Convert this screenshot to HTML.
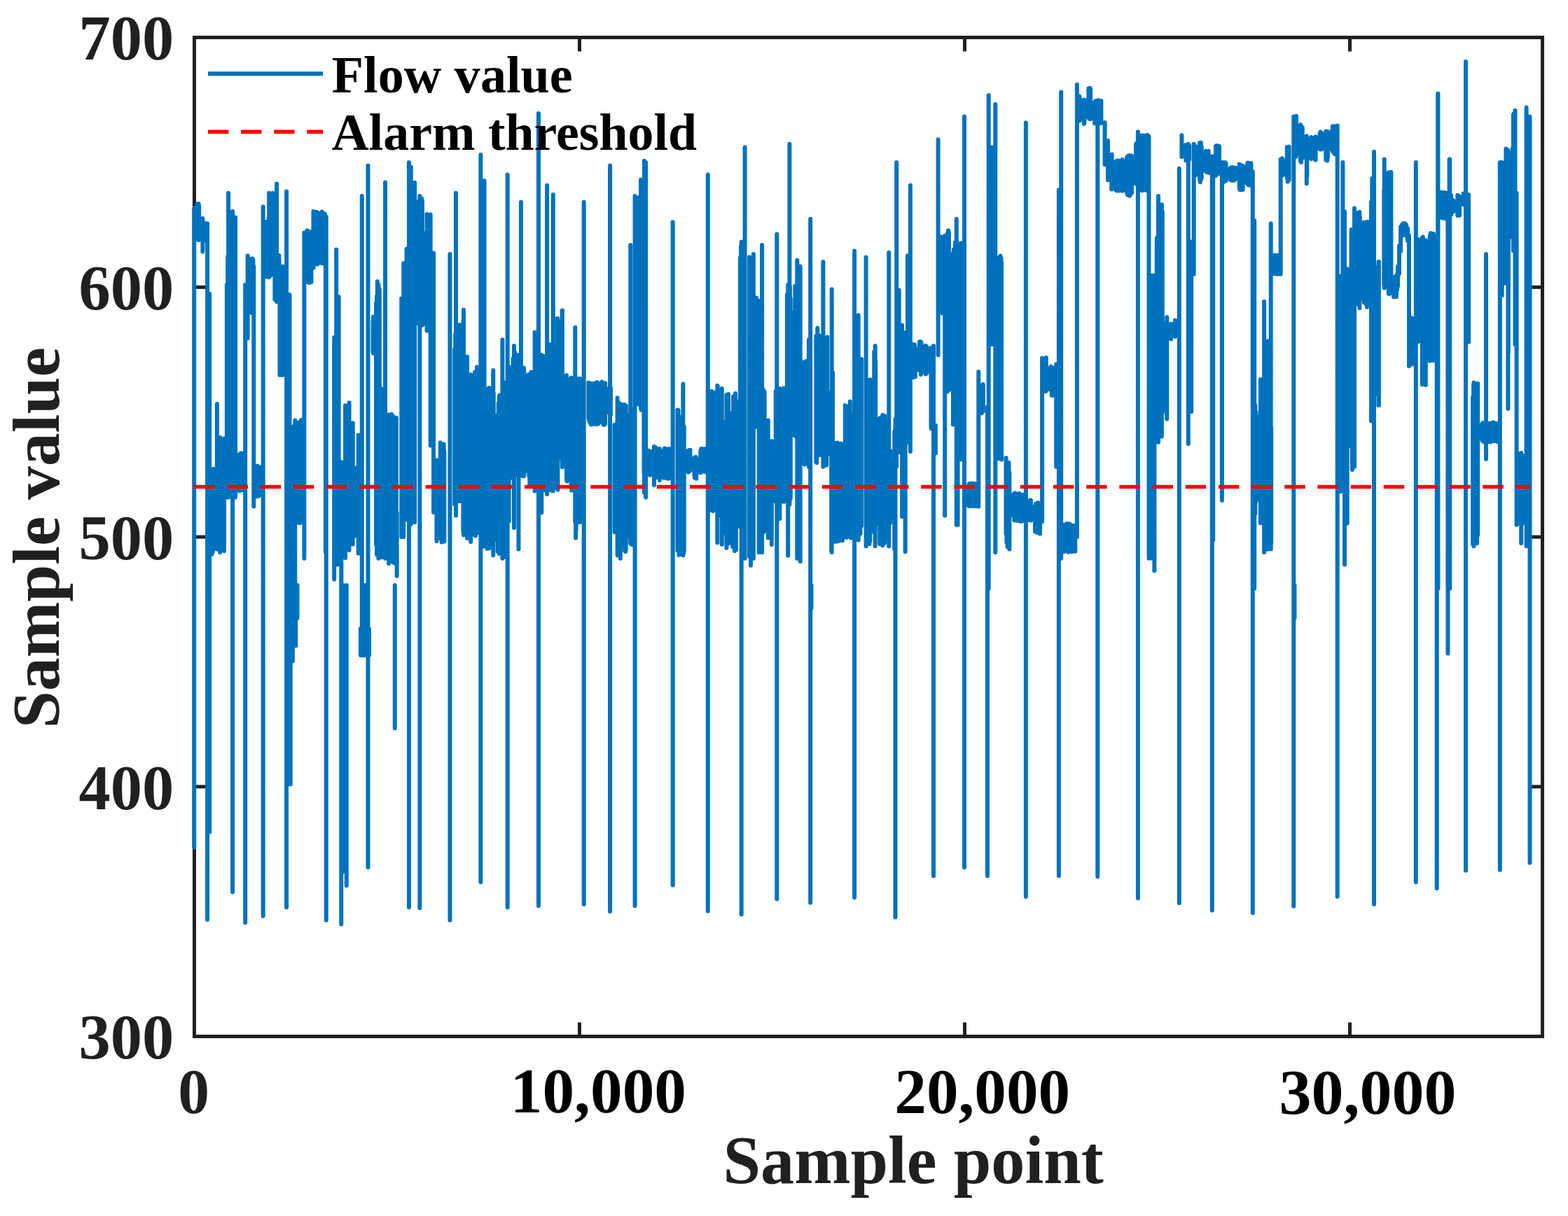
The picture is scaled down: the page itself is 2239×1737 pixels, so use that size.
<!DOCTYPE html>
<html><head><meta charset="utf-8"><title>Flow value and alarm threshold</title>
<style>html,body{margin:0;padding:0;background:#fff;overflow:hidden}svg{display:block}</style></head>
<body>
<svg width="2239" height="1737" viewBox="0 0 2239 1737">
<rect width="2239" height="1737" fill="#fff"/>
<rect x="277.5" y="53.5" width="1925.0" height="1427.0" fill="none" stroke="#202020" stroke-width="5"/>
<path d="M827.5 1480.5V1460.5M827.5 53.5V73.5M1377.5 1480.5V1460.5M1377.5 53.5V73.5M1927.5 1480.5V1460.5M1927.5 53.5V73.5M277.5 1123.8H297.5M2202.5 1123.8H2182.5M277.5 767.0H297.5M2202.5 767.0H2182.5M277.5 410.2H297.5M2202.5 410.2H2182.5" stroke="#202020" stroke-width="5" fill="none"/>
<path d="M277.2 297.5V1210.4M281.5 291.2V340.4M282.5 292.9V341.9M283.5 291.1V343.1M284.2 293.7V342.5M289.4 312.0V359.5M293.8 318.9V343.4M296.1 319.3V1313.7M299.2 419.8V1188.5M302.0 681.9V792.0M303.0 673.5V790.3M304.0 676.3V788.1M304.8 669.7V784.8M309.9 577.0V784.6M310.8 629.9V783.0M311.8 640.2V784.9M312.8 633.8V777.2M313.8 657.9V782.2M314.3 625.0V789.0M314.8 627.9V786.6M315.8 638.7V770.7M316.8 636.7V780.4M317.8 643.1V781.6M318.8 627.6V777.3M319.8 640.2V782.9M320.0 626.6V787.1M323.9 406.7V710.4M325.2 366.4V707.2M326.1 275.7V710.4M326.2 374.3V707.5M327.2 379.6V677.9M328.2 370.0V699.9M329.2 418.7V706.3M330.2 369.1V694.0M331.0 364.3V700.6M332.1 301.9V1274.2M336.1 310.6V710.4M339.1 657.6V697.7M340.1 650.2V692.8M341.1 655.1V699.0M342.1 649.1V701.2M343.1 648.0V700.3M344.1 647.3V700.2M345.1 649.5V698.5M346.1 648.7V700.0M347.1 655.2V698.4M348.1 647.4V699.6M348.4 652.3V698.7M350.2 406.7V1318.1M353.6 365.2V483.3M354.4 370.9V445.0M355.4 373.4V438.0M356.4 369.7V445.3M357.4 372.9V446.0M358.4 377.3V438.0M359.4 376.7V445.7M360.4 369.3V447.4M361.4 370.7V434.0M361.5 381.8V434.4M362.3 380.5V723.5M367.5 665.6V709.2M368.5 669.4V704.5M369.5 669.3V708.2M370.5 672.4V705.6M371.5 667.2V707.0M372.4 674.1V706.3M375.7 295.3V1308.5M380.6 316.8V394.9M381.6 323.3V392.8M382.6 329.7V392.4M383.6 311.3V378.6M384.2 275.7V395.9M384.6 316.7V390.8M385.6 318.9V393.8M386.4 313.6V393.4M389.4 275.7V369.7M392.4 366.2V428.0M393.4 368.8V426.2M394.4 367.0V428.2M395.1 262.6V430.9M395.4 365.6V428.5M396.4 365.1V424.7M397.4 365.9V425.7M398.4 365.1V429.0M398.6 369.7V425.7M399.5 384.8V535.7M403.8 380.5V535.7M409.1 273.5V1296.1M413.5 421.0V1120.0M414.8 836.0V1120.3M416.5 701.0V944.0M416.9 629.9V827.7M417.9 609.6V831.8M417.9 836.0V944.5M418.9 609.6V823.5M419.9 634.4V827.9M420.9 621.6V837.8M421.3 600.5V837.8M422.3 836.0V922.5M424.3 613.2V746.2M424.5 836.0V883.0M425.3 607.5V730.4M426.3 603.6V744.3M427.3 636.4V747.0M428.3 605.4V747.0M429.3 608.7V742.2M430.1 600.0V740.6M434.4 332.4V797.7M437.4 331.3V395.7M438.4 329.3V402.2M439.4 329.7V399.8M440.4 335.6V401.3M441.4 333.5V404.1M442.4 333.9V401.6M443.4 334.4V401.8M444.4 330.9V401.3M444.5 334.0V403.1M447.5 301.9V382.8M450.5 305.5V377.5M451.5 302.7V376.1M452.5 308.3V375.2M453.5 303.6V377.3M454.5 308.7V376.2M455.5 312.9V370.5M456.5 307.1V375.0M457.5 309.4V374.3M458.5 308.6V375.4M459.5 302.5V376.0M460.5 303.5V375.6M461.5 311.9V376.4M462.5 304.6V376.5M463.5 306.0V362.7M464.1 305.9V376.0M465.0 345.5V789.0M465.8 309.7V1314.6M477.2 482.1V827.6M480.2 356.5V806.4M483.7 424.1V806.4M487.3 660.0V1320.3M487.4 663.5V839.9M490.0 836.0V1245.0M493.1 579.2V797.1M494.8 836.0V1265.0M498.6 575.3V786.0M503.8 604.3V777.6M508.2 668.5V765.5M511.7 621.6V790.4M515.0 898.0V936.0M516.8 280.0V935.7M517.0 898.0V936.0M519.0 898.0V936.0M521.0 898.0V936.0M521.2 836.0V929.0M523.0 898.0V936.0M525.0 898.0V936.0M525.5 236.4V1239.0M527.0 898.0V936.0M532.6 459.0V503.0M533.1 452.4V504.8M537.0 433.2V777.4M538.0 423.1V792.3M539.0 401.9V793.0M540.0 416.3V775.9M540.5 406.7V797.7M541.0 411.5V763.3M541.9 413.6V775.9M545.7 555.9V795.9M546.2 555.4V777.1M550.1 260.4V797.7M552.2 598.7V797.3M553.2 607.8V795.0M554.2 592.6V790.7M555.2 599.3V804.9M556.2 604.3V793.3M557.2 599.4V799.2M558.2 615.1V761.9M559.2 591.7V784.8M560.2 597.4V801.0M561.2 594.4V803.2M562.2 623.8V786.2M563.2 616.0V800.9M563.8 836.0V1040.3M564.2 597.4V804.9M565.2 597.5V803.7M565.9 596.8V804.2M566.7 732.6V822.7M573.3 426.3V767.1M576.3 376.1V767.1M580.6 355.4V742.3M581.2 417.2V742.6M584.0 232.0V1296.1M586.8 238.4V748.7M592.2 260.8V746.0M598.1 287.5V462.8M599.1 303.2V457.9M599.4 280.0V1297.0M600.1 308.8V457.8M601.1 294.1V454.8M602.1 283.4V444.7M603.0 287.2V464.6M609.0 331.8V464.1M609.6 306.0V472.4M614.7 306.5V636.5M619.1 361.4V731.7M623.5 657.2V773.0M628.7 632.2V766.9M629.7 640.9V770.3M630.7 633.9V774.5M631.7 655.2V768.8M632.7 644.8V772.8M633.7 634.5V750.5M634.4 644.8V773.5M642.5 363.0V1314.6M649.2 499.3V720.4M650.2 477.2V706.4M651.0 275.7V736.6M651.0 516.3V730.2M656.2 464.0V716.0M661.4 459.1V759.6M662.0 442.4V764.3M667.1 509.4V768.8M672.2 535.3V774.1M678.0 531.4V764.6M679.0 531.9V765.6M680.0 562.6V742.8M681.0 524.3V728.4M681.6 524.9V760.7M686.4 221.1V1260.1M686.7 545.4V772.2M687.7 541.0V782.5M688.7 552.8V766.5M689.5 547.2V743.7M691.6 258.2V780.2M695.5 572.1V783.7M696.5 557.8V780.2M697.5 555.1V773.0M698.2 553.9V783.2M704.2 531.1V791.3M704.3 528.9V793.3M704.8 562.0V772.8M710.8 592.1V788.1M711.8 575.8V779.3M712.8 566.0V791.1M713.5 564.4V756.3M717.4 485.3V797.7M719.5 582.0V789.4M720.5 561.6V795.6M720.9 546.5V793.8M724.7 249.5V1296.1M726.7 523.9V744.7M732.6 512.2V683.6M733.6 522.9V668.5M734.0 494.0V754.0M734.6 503.1V652.6M735.3 503.4V679.8M740.5 507.1V784.6M741.2 509.4V675.3M744.0 288.8V679.8M747.9 525.4V680.2M748.4 530.7V678.8M754.4 535.2V674.3M755.4 545.0V680.2M756.4 537.9V692.9M757.4 542.2V693.1M758.4 531.6V695.3M759.3 535.2V676.0M763.6 474.4V701.6M767.5 510.4V699.1M768.5 520.6V697.7M769.0 162.1V1294.0M769.5 518.7V685.5M770.5 518.2V682.7M771.5 516.5V687.9M772.5 510.6V697.3M773.3 507.1V732.2M773.5 516.6V693.7M774.5 514.8V683.4M775.5 553.7V692.8M776.5 527.9V700.3M777.5 508.9V664.4M778.5 534.4V680.5M779.0 512.4V672.7M781.1 264.8V706.0M785.0 501.2V697.9M786.0 491.9V696.7M787.0 501.5V700.5M788.0 502.3V697.0M789.0 508.3V700.6M789.8 277.9V701.6M789.9 496.7V690.4M795.9 454.7V698.3M796.5 457.9V699.5M802.5 444.0V656.3M803.0 443.5V667.3M809.0 536.1V686.0M809.6 540.2V687.4M815.6 539.5V694.5M816.1 540.3V700.5M821.3 467.8V745.3M822.1 540.5V768.4M822.7 540.6V757.3M827.8 540.8V746.0M833.7 288.8V1291.7M840.4 546.6V598.0M841.4 553.8V601.6M842.4 549.9V603.5M843.4 550.6V605.7M844.4 547.8V606.6M845.4 551.2V605.9M846.4 549.0V601.4M847.4 548.9V603.6M848.4 547.8V603.9M849.4 547.5V605.8M850.4 547.1V600.7M851.4 546.8V605.3M852.4 546.0V606.1M853.4 546.7V604.2M854.4 550.9V605.2M855.4 547.7V597.5M856.4 553.6V601.0M857.4 547.9V602.6M858.4 552.8V599.9M859.4 545.5V602.6M860.4 552.5V601.8M861.4 549.3V606.2M862.4 547.5V607.1M863.4 547.6V601.3M864.1 547.2V605.7M870.1 554.3V590.2M871.1 236.4V1301.9M871.1 555.5V593.6M872.0 554.4V592.2M877.6 606.7V760.0M881.6 568.2V793.3M883.2 575.0V765.5M884.2 587.3V766.4M885.1 579.7V776.2M885.9 577.0V797.7M891.1 577.8V777.4M892.1 587.4V786.8M893.1 588.4V787.9M893.8 579.3V784.5M899.8 590.9V769.0M900.3 349.9V775.9M900.8 585.6V777.0M901.8 584.3V757.3M902.8 587.3V778.2M903.8 590.7V768.5M904.8 611.3V774.6M906.6 280.0V1294.0M910.8 282.3V570.8M911.8 283.3V577.5M912.8 323.1V574.2M913.5 292.6V553.5M915.1 256.7V584.6M915.7 277.6V585.4M919.5 258.1V675.9M920.0 229.8V703.8M922.2 232.0V710.4M926.0 643.8V676.8M927.0 645.3V676.4M928.0 645.3V678.7M928.8 644.7V678.0M934.0 638.1V692.9M934.8 643.6V683.6M935.8 647.2V681.0M936.8 639.6V680.1M937.8 642.5V680.0M938.8 641.5V681.8M939.8 643.8V682.2M940.8 643.7V682.7M941.8 641.2V683.9M941.9 641.1V685.9M947.9 643.3V682.8M948.9 640.5V679.5M949.9 645.2V682.2M950.9 643.8V677.6M951.9 643.1V675.7M952.9 641.2V683.8M953.9 647.1V679.4M954.9 643.5V683.6M955.9 644.2V682.0M956.9 641.1V681.2M957.9 642.3V675.0M958.5 646.5V682.8M960.7 317.2V1264.5M967.5 585.6V786.6M968.5 586.1V771.4M969.5 596.2V792.7M970.3 595.6V791.8M975.4 548.6V793.3M976.3 612.1V789.9M976.8 609.8V787.6M982.8 643.6V674.6M983.8 645.3V673.4M984.8 642.9V672.9M985.5 642.8V672.3M991.5 654.0V681.0M992.5 653.7V682.7M993.5 652.8V682.6M994.3 654.8V683.8M1000.3 643.9V675.3M1001.3 641.1V674.4M1002.3 643.9V673.4M1003.3 641.8V671.9M1004.3 641.2V673.6M1005.3 642.4V672.4M1006.3 643.3V672.8M1007.3 641.7V674.1M1007.4 640.9V672.0M1010.8 249.5V1301.4M1016.0 558.8V729.1M1017.0 562.1V729.5M1018.0 567.4V729.3M1018.3 560.3V730.1M1024.3 550.8V775.2M1024.8 551.8V738.0M1030.8 554.9V777.8M1031.4 600.9V763.6M1037.4 563.9V782.7M1038.4 565.2V776.4M1039.4 574.4V771.8M1040.1 563.1V776.5M1046.1 588.9V781.0M1047.1 566.6V775.6M1048.1 579.2V768.7M1049.1 573.0V787.0M1050.1 562.0V773.2M1051.0 572.0V785.5M1057.0 368.0V752.9M1058.0 351.9V746.2M1058.7 345.5V1306.3M1059.0 363.2V777.7M1059.8 351.7V717.0M1063.6 210.2V797.7M1070.1 367.2V795.3M1071.1 381.2V773.5M1072.0 377.8V807.7M1075.9 363.0V797.7M1078.0 431.2V610.1M1079.0 428.5V610.0M1080.0 425.5V606.9M1081.0 429.1V609.6M1082.0 452.7V609.5M1082.9 429.6V610.6M1083.7 432.9V789.0M1088.1 349.9V789.0M1088.9 570.8V758.5M1089.9 556.5V760.5M1090.9 571.9V759.3M1091.7 559.8V746.5M1096.8 600.6V768.3M1101.9 629.9V778.0M1107.7 558.7V716.4M1108.7 561.8V710.7M1109.3 334.6V1284.3M1109.7 579.9V717.9M1110.7 577.3V717.1M1111.7 563.6V717.9M1112.7 564.8V719.5M1113.4 555.1V740.9M1113.7 559.7V716.8M1114.7 577.2V716.6M1115.7 565.4V708.9M1119.3 554.6V716.7M1123.9 420.9V709.1M1124.9 420.3V716.2M1125.2 406.7V793.8M1125.9 417.6V710.5M1126.9 418.9V706.0M1127.4 205.8V720.8M1127.9 409.3V709.2M1128.8 426.5V712.1M1134.8 444.3V622.5M1135.3 408.8V620.0M1138.3 371.7V797.7M1141.3 391.9V785.5M1141.9 428.8V773.4M1142.7 380.5V802.1M1147.9 517.3V661.7M1148.9 519.7V663.5M1149.9 517.5V652.0M1150.9 526.5V660.4M1151.9 520.0V656.0M1151.9 515.6V662.1M1154.9 485.3V666.7M1157.2 312.8V1289.5M1158.5 836.0V869.0M1165.3 480.1V659.7M1166.3 490.8V660.9M1167.3 468.4V635.5M1168.3 480.7V636.8M1169.3 479.1V648.8M1170.3 479.7V650.1M1175.4 373.9V666.7M1176.3 494.7V664.7M1177.3 497.6V655.6M1178.3 499.5V658.2M1179.3 485.6V661.8M1180.3 493.4V664.5M1181.2 481.6V649.4M1187.2 559.3V787.6M1187.7 413.2V789.0M1188.2 539.3V734.9M1189.0 532.0V774.5M1193.7 632.8V773.8M1194.7 635.4V772.6M1195.7 632.6V765.8M1196.7 641.8V773.2M1197.7 643.3V766.0M1198.7 640.9V768.5M1199.7 636.6V766.6M1200.7 633.6V763.2M1201.7 636.5V771.9M1202.7 636.6V770.8M1203.0 637.8V772.3M1206.8 579.1V760.3M1207.8 579.9V740.0M1208.8 581.9V767.9M1209.8 587.3V765.6M1210.8 613.2V761.3M1211.8 580.9V764.7M1212.8 584.6V754.1M1213.8 573.4V764.2M1214.8 592.3V768.6M1215.8 592.0V762.1M1216.1 594.2V757.2M1220.1 358.6V1282.1M1225.7 450.3V771.5M1226.5 515.2V758.4M1227.5 514.5V735.3M1228.5 523.7V762.6M1229.5 515.4V749.4M1230.1 512.9V751.3M1236.6 367.4V780.2M1240.4 551.0V752.2M1241.4 547.4V777.1M1242.3 542.2V773.0M1248.3 502.5V760.4M1249.3 562.8V759.3M1249.7 494.0V780.2M1250.2 515.4V749.4M1256.2 597.2V776.9M1257.2 610.9V771.4M1258.2 605.9V749.8M1259.2 609.4V777.3M1260.2 592.8V779.2M1261.2 600.5V771.5M1262.2 613.4V770.3M1263.2 594.2V775.7M1264.1 602.8V768.4M1269.3 360.8V780.2M1270.1 646.2V728.3M1271.1 644.0V747.0M1272.0 657.9V739.6M1277.2 616.4V784.3M1278.5 598.8V1310.2M1280.2 232.0V666.7M1283.7 414.4V645.9M1288.1 464.4V737.9M1292.7 475.0V788.2M1296.0 365.2V631.8M1299.9 264.8V644.9M1304.2 491.9V538.9M1305.2 492.7V536.2M1306.2 492.5V536.6M1306.9 497.6V538.3M1312.9 488.3V529.0M1313.9 487.9V529.7M1314.9 488.3V534.9M1315.7 490.2V532.7M1321.7 493.8V534.5M1322.7 497.0V533.8M1323.5 495.4V532.5M1329.5 497.1V606.9M1329.6 498.8V611.9M1333.0 494.0V1251.3M1335.9 607.6V647.5M1339.6 199.3V507.3M1343.5 338.3V435.3M1344.5 345.0V426.5M1345.5 347.2V447.5M1346.2 348.5V445.9M1349.2 336.8V736.6M1352.2 358.4V559.8M1353.2 332.8V554.8M1354.2 329.3V557.7M1355.0 332.6V556.9M1361.0 361.5V606.6M1362.0 356.2V592.2M1363.0 360.7V582.0M1364.0 346.2V575.3M1365.0 365.9V604.6M1365.8 312.8V749.7M1365.9 343.6V601.8M1367.6 363.0V749.7M1371.9 347.2V655.6M1372.9 349.8V636.7M1373.9 353.9V656.7M1374.9 349.2V615.4M1375.1 358.8V654.2M1377.0 166.5V1239.0M1382.8 694.4V722.6M1383.8 691.2V723.0M1384.8 691.5V720.2M1385.8 690.6V723.1M1386.8 693.3V722.7M1387.8 690.6V721.1M1388.8 692.8V721.4M1389.8 693.3V723.0M1390.8 694.0V720.6M1391.8 690.7V723.0M1392.8 692.5V721.5M1393.8 691.6V723.0M1394.3 692.1V722.9M1397.3 531.1V723.5M1401.6 551.2V590.3M1402.6 550.2V585.4M1403.6 548.9V586.5M1403.9 550.4V587.8M1410.0 581.3V1251.3M1411.7 135.9V840.7M1416.5 210.2V492.0M1421.3 149.0V789.0M1426.5 368.2V655.0M1427.5 390.7V638.3M1428.5 365.4V615.5M1429.5 368.7V650.3M1430.1 374.8V656.5M1436.5 654.0V762.6M1437.5 674.3V774.9M1438.5 668.4V781.1M1439.5 662.0V780.8M1440.5 660.8V782.6M1441.4 675.0V784.5M1447.4 705.7V736.9M1448.4 705.7V743.2M1449.4 704.3V743.3M1450.4 705.1V743.4M1451.4 709.4V741.5M1452.4 706.2V742.3M1453.4 707.1V743.7M1454.4 705.7V742.5M1455.4 704.7V740.3M1456.4 706.9V741.6M1457.4 706.7V744.7M1458.4 709.4V744.0M1459.4 707.1V744.4M1460.4 712.8V743.9M1461.4 706.6V740.6M1462.4 708.9V740.1M1463.4 708.2V739.8M1464.1 709.4V740.8M1464.9 175.2V1280.8M1470.1 715.4V742.9M1471.1 714.3V741.4M1472.0 714.6V743.6M1478.0 723.0V759.4M1479.0 719.5V758.8M1480.0 719.6V760.6M1481.0 723.0V759.8M1482.0 718.1V760.7M1483.0 719.1V755.7M1484.0 723.7V754.5M1485.0 720.8V762.6M1485.1 720.2V754.4M1488.1 511.5V745.3M1491.1 514.4V558.3M1492.1 513.6V558.9M1493.1 513.3V557.2M1493.8 510.7V558.8M1499.8 524.9V556.8M1500.8 523.5V553.2M1501.8 524.5V564.8M1502.8 531.9V564.2M1503.8 527.7V559.2M1504.8 526.7V565.0M1508.2 520.2V666.7M1511.9 271.3V1250.9M1515.2 131.6V797.7M1516.4 750.4V788.0M1517.4 751.3V785.0M1518.4 749.6V785.4M1519.4 750.2V788.0M1520.4 753.1V786.0M1521.4 750.5V786.3M1522.4 751.9V785.9M1523.4 748.0V785.5M1524.4 748.0V784.9M1525.4 751.8V788.8M1526.4 751.5V785.2M1527.4 748.5V786.0M1528.4 750.2V786.5M1529.4 750.1V784.2M1530.4 750.4V788.2M1531.4 755.7V785.4M1532.4 751.9V784.1M1533.4 751.6V787.2M1534.4 750.7V785.5M1535.3 751.1V787.8M1537.9 120.7V767.1M1541.3 137.4V172.5M1541.9 139.8V172.1M1547.9 142.5V177.1M1548.4 142.4V176.1M1554.4 126.5V168.3M1555.4 126.8V169.7M1556.4 125.8V167.4M1557.2 127.5V170.0M1563.2 145.8V176.2M1564.2 144.3V173.4M1565.2 145.7V176.1M1566.2 143.9V173.8M1567.2 144.0V172.9M1567.3 144.7V1252.2M1568.2 143.3V172.9M1569.2 144.5V175.8M1570.2 144.3V176.2M1571.2 145.3V175.7M1572.2 146.1V174.4M1572.4 144.0V175.7M1577.6 175.0V235.1M1582.0 201.1V257.2M1587.2 222.3V270.4M1587.7 220.6V270.6M1593.7 230.6V271.7M1594.7 230.2V272.6M1595.7 229.2V271.2M1596.7 229.6V265.6M1597.7 235.4V272.5M1598.7 229.7V270.0M1599.7 230.9V270.0M1600.7 233.2V270.7M1601.7 230.7V268.4M1602.7 227.9V272.7M1603.0 229.6V272.6M1609.0 224.8V274.9M1610.0 225.8V278.5M1611.0 222.4V274.4M1612.0 222.3V274.5M1613.0 222.0V279.7M1614.0 224.6V277.8M1615.0 226.0V275.6M1616.0 222.4V271.9M1616.1 231.6V275.7M1622.1 206.0V262.7M1622.7 204.8V255.9M1624.9 188.3V1283.0M1628.7 196.8V266.1M1629.7 193.4V256.9M1630.7 194.6V272.3M1631.7 193.4V271.7M1632.7 197.8V271.8M1633.7 194.9V260.9M1634.7 194.7V271.3M1635.7 194.7V268.0M1636.7 193.3V268.4M1637.7 199.2V272.3M1638.7 193.0V272.6M1638.8 193.6V270.8M1640.5 194.9V797.7M1645.3 393.6V797.7M1648.4 393.6V815.2M1651.8 346.0V616.1M1651.9 340.1V551.5M1654.0 280.0V631.8M1657.9 292.4V564.1M1658.9 292.2V623.5M1659.8 302.4V588.3M1665.8 460.7V592.3M1666.3 452.9V598.6M1672.2 462.4V484.3M1678.0 457.6V480.7M1678.6 460.3V479.6M1683.8 240.7V1290.0M1687.4 193.3V224.1M1693.3 207.1V229.3M1694.3 209.1V228.7M1695.3 207.3V227.8M1696.3 207.3V226.7M1696.8 205.8V633.9M1697.3 206.8V229.8M1698.2 208.1V227.5M1701.2 345.5V588.1M1704.7 205.8V391.6M1706.4 212.0V243.3M1706.9 208.9V250.5M1712.9 204.3V256.5M1713.9 206.1V260.2M1714.9 203.8V256.6M1715.7 209.6V254.6M1721.7 215.7V244.8M1722.7 216.6V245.8M1723.7 215.9V245.7M1724.7 217.2V244.2M1725.7 218.2V246.8M1725.7 215.7V245.7M1730.8 223.3V1300.5M1732.2 232.0V771.5M1736.1 208.8V251.1M1737.1 208.1V240.6M1738.1 213.5V242.1M1739.1 210.0V247.3M1740.1 208.4V243.1M1741.0 209.2V248.2M1744.9 232.0V714.7M1747.9 232.1V259.8M1748.9 234.7V258.8M1749.9 232.3V257.9M1750.6 233.5V258.2M1756.6 240.2V256.3M1757.6 240.8V256.8M1758.6 239.0V257.7M1759.6 242.1V256.2M1760.6 239.0V254.9M1761.6 239.6V258.0M1762.6 240.7V257.4M1763.6 240.5V256.2M1763.7 239.5V256.1M1769.7 234.6V269.4M1770.7 236.5V271.2M1771.7 235.8V271.2M1772.7 235.9V268.0M1773.7 236.4V268.6M1774.6 237.2V271.0M1780.6 236.0V262.1M1781.6 232.4V261.6M1782.6 233.6V264.3M1783.6 235.8V262.7M1784.6 235.1V264.4M1785.6 235.1V264.7M1786.4 233.0V263.4M1788.8 245.1V1304.0M1791.2 315.0V840.7M1792.4 578.9V733.7M1793.4 588.2V717.0M1794.3 595.3V713.8M1799.9 541.9V747.2M1805.1 430.7V789.0M1805.5 505.2V785.8M1806.5 508.6V769.3M1807.5 499.7V774.4M1808.5 489.9V771.0M1809.5 489.9V759.4M1810.0 487.2V784.8M1814.7 319.3V784.6M1815.2 611.0V775.2M1819.9 364.5V391.0M1820.9 366.5V389.4M1821.9 365.8V388.3M1822.9 366.8V391.5M1823.9 364.4V391.0M1824.9 365.0V388.1M1825.7 366.2V391.4M1828.7 227.6V391.6M1830.8 226.2V248.6M1831.8 228.2V250.3M1837.8 210.2V254.3M1838.8 215.5V259.4M1839.8 211.3V258.0M1840.6 209.6V257.1M1847.3 166.5V1294.4M1848.5 836.0V883.0M1850.5 166.9V223.9M1851.0 165.7V220.7M1857.0 178.0V230.3M1858.0 179.9V231.8M1859.0 182.5V220.0M1859.8 182.2V226.0M1865.8 194.2V262.3M1866.3 197.2V251.9M1872.2 196.1V227.0M1878.0 195.7V228.0M1878.6 195.2V228.6M1884.6 190.5V213.1M1885.6 188.6V213.4M1886.6 189.6V210.8M1887.3 190.3V213.3M1893.3 187.5V228.6M1894.3 188.8V227.3M1895.3 189.0V229.4M1896.0 187.9V225.4M1902.0 186.7V214.0M1903.0 180.3V216.4M1904.0 182.9V217.4M1905.0 181.2V215.4M1906.0 180.3V220.1M1907.0 182.9V219.6M1908.0 184.2V218.4M1909.0 185.4V219.0M1909.1 185.8V219.9M1909.7 179.6V1280.8M1914.3 394.5V702.2M1917.4 232.0V557.5M1920.0 301.9V806.4M1923.7 384.1V747.6M1929.5 343.7V621.5M1929.6 328.1V637.9M1930.9 328.1V671.1M1934.0 297.5V666.7M1938.3 304.1V434.5M1939.3 304.2V421.4M1940.3 331.4V432.8M1941.3 302.8V440.1M1941.9 310.5V428.4M1947.9 317.4V432.3M1948.9 317.6V430.0M1949.9 321.0V428.9M1950.9 323.2V434.8M1951.9 318.3V438.7M1952.8 316.8V428.8M1958.0 288.8V601.2M1958.8 334.2V576.2M1959.3 254.7V598.6M1962.0 216.7V1291.7M1967.5 381.5V563.8M1968.5 374.1V578.9M1968.9 373.8V579.0M1976.3 271.4V407.3M1976.7 227.6V404.7M1976.8 248.5V411.4M1982.8 246.2V419.6M1983.8 250.2V419.9M1984.8 250.5V394.0M1985.8 246.0V418.1M1986.4 245.9V407.3M1990.0 396.0V424.0M1992.0 396.0V424.0M1992.4 397.9V413.4M1993.4 397.9V413.4M1994.0 393.0V424.0M1994.4 397.9V413.4M1995.1 397.9V413.4M1996.0 381.0V409.0M1998.0 351.0V391.0M2000.0 324.0V359.0M2002.0 321.0V337.0M2004.0 319.0V335.0M2006.0 319.0V335.0M2008.0 321.0V337.0M2010.0 326.0V344.0M2012.0 336.0V523.0M2013.4 454.6V520.0M2014.4 453.6V514.2M2015.4 458.0V520.4M2016.4 455.5V519.9M2017.0 455.1V516.7M2021.8 232.0V1260.1M2023.0 343.5V486.2M2024.0 355.0V473.6M2024.8 341.8V488.2M2030.8 339.6V549.2M2031.8 338.4V540.3M2032.8 344.1V536.7M2033.8 379.4V547.9M2034.8 349.7V544.8M2035.8 343.3V550.0M2041.8 336.5V515.5M2042.8 332.9V514.3M2043.8 334.0V511.3M2044.8 335.9V493.3M2045.8 335.5V495.6M2046.7 333.8V515.1M2051.7 336.8V840.7M2051.7 339.0V1268.9M2053.2 133.8V666.7M2053.4 133.8V840.7M2057.0 275.1V310.2M2057.3 278.0V309.0M2058.0 274.5V308.6M2058.3 276.6V310.5M2059.0 276.8V307.6M2059.3 278.6V311.5M2060.0 279.9V311.0M2060.3 278.5V311.4M2061.0 277.5V310.8M2061.3 277.8V310.5M2062.0 275.0V302.6M2062.3 278.4V311.7M2063.0 278.2V310.5M2063.1 278.2V310.8M2064.0 275.2V312.2M2065.0 279.7V307.9M2066.0 276.9V309.2M2066.3 277.2V310.7M2067.4 315.0V840.7M2067.5 284.4V933.5M2069.6 227.6V308.6M2070.2 227.6V840.7M2072.2 279.1V306.6M2072.6 285.3V301.8M2073.6 285.5V300.6M2074.6 286.3V301.4M2075.3 286.5V302.3M2081.3 278.7V308.0M2082.3 281.6V306.5M2083.3 280.0V306.5M2084.0 281.1V307.7M2089.7 276.4V292.2M2093.0 87.9V1243.4M2097.0 278.1V473.6M2097.1 292.4V488.4M2103.1 566.9V777.5M2104.1 548.8V759.5M2104.5 546.4V780.2M2105.1 553.8V771.3M2106.1 561.8V770.2M2107.1 563.6V765.7M2108.1 555.8V773.7M2109.1 552.1V775.9M2110.1 547.7V764.5M2110.2 551.8V758.8M2116.2 605.7V628.3M2117.2 604.0V630.1M2118.2 606.4V629.3M2119.2 604.7V631.6M2120.2 605.0V630.3M2121.2 606.0V630.6M2122.0 363.0V655.8M2122.2 604.8V629.2M2123.2 606.4V630.3M2124.2 604.7V629.4M2125.2 606.9V631.0M2126.2 607.1V628.9M2127.2 604.7V629.1M2128.2 604.5V631.5M2129.2 606.2V630.2M2130.2 605.3V629.8M2131.2 606.8V628.7M2132.2 603.3V629.4M2133.2 605.0V629.9M2134.2 606.5V630.1M2135.2 605.1V628.2M2136.2 604.9V629.8M2137.2 605.2V628.5M2138.2 605.9V628.8M2139.2 604.8V631.6M2140.2 605.9V629.5M2140.8 606.3V628.7M2141.8 232.0V1242.5M2144.7 232.0V422.1M2146.8 233.8V401.5M2147.4 233.2V390.8M2150.4 212.4V404.7M2153.4 217.4V493.7M2153.4 214.5V583.7M2153.9 217.5V503.9M2159.9 211.5V339.5M2160.9 163.5V358.0M2161.9 161.9V356.4M2162.6 179.5V352.4M2163.5 157.8V492.0M2165.6 275.7V749.7M2169.5 648.0V736.7M2170.5 657.8V748.3M2171.5 652.0V744.9M2172.2 646.9V775.9M2172.5 652.5V740.6M2173.5 661.7V748.4M2174.5 652.1V744.3M2175.5 650.9V745.7M2175.7 657.1V743.7M2179.6 153.4V780.2M2184.5 166.5V1232.4" fill="none" stroke="#0072BD" stroke-width="6" stroke-linejoin="round" stroke-linecap="round"/>
<line x1="277.3" y1="695.4" x2="2184.7" y2="695.4" stroke="#FF0000" stroke-width="5.4" stroke-dasharray="29.5 17.68"/>
<text x="112.40" y="1512.3" font-family="Liberation Serif, Times New Roman, serif" font-weight="bold" font-size="90.5" fill="#202020" textLength="135.75" lengthAdjust="spacingAndGlyphs">300</text>
<text x="112.40" y="1155.5" font-family="Liberation Serif, Times New Roman, serif" font-weight="bold" font-size="90.5" fill="#202020" textLength="135.75" lengthAdjust="spacingAndGlyphs">400</text>
<text x="112.40" y="798.8" font-family="Liberation Serif, Times New Roman, serif" font-weight="bold" font-size="90.5" fill="#202020" textLength="135.75" lengthAdjust="spacingAndGlyphs">500</text>
<text x="112.40" y="442.1" font-family="Liberation Serif, Times New Roman, serif" font-weight="bold" font-size="90.5" fill="#202020" textLength="135.75" lengthAdjust="spacingAndGlyphs">600</text>
<text x="112.40" y="85.3" font-family="Liberation Serif, Times New Roman, serif" font-weight="bold" font-size="90.5" fill="#202020" textLength="135.75" lengthAdjust="spacingAndGlyphs">700</text>
<text x="254.19" y="1590" font-family="Liberation Serif, Times New Roman, serif" font-weight="bold" font-size="90.5" fill="#202020" textLength="44.83" lengthAdjust="spacingAndGlyphs">0</text>
<text x="728.79" y="1588.8" font-family="Liberation Serif, Times New Roman, serif" font-weight="bold" font-size="90.5" fill="#000" textLength="251.19" lengthAdjust="spacingAndGlyphs">10,000</text>
<text x="1277.37" y="1589.8" font-family="Liberation Serif, Times New Roman, serif" font-weight="bold" font-size="90.5" fill="#000" textLength="250.80" lengthAdjust="spacingAndGlyphs">20,000</text>
<text x="1826.44" y="1590.8" font-family="Liberation Serif, Times New Roman, serif" font-weight="bold" font-size="90.5" fill="#000" textLength="253.06" lengthAdjust="spacingAndGlyphs">30,000</text>
<text x="1032.47" y="1690" font-family="Liberation Serif, Times New Roman, serif" font-weight="bold" font-size="96.6" fill="#202020" textLength="543.45" lengthAdjust="spacingAndGlyphs">Sample point</text>
<text transform="rotate(-90)" x="-1040.19" y="83.7" font-family="Liberation Serif, Times New Roman, serif" font-weight="bold" font-size="95.7" fill="#202020" textLength="544.16" lengthAdjust="spacingAndGlyphs">Sample value</text>
<line x1="297" y1="105.2" x2="461.2" y2="105.2" stroke="#0072BD" stroke-width="6"/>
<line x1="297" y1="188.3" x2="461.2" y2="188.3" stroke="#FF0000" stroke-width="5.5" stroke-dasharray="29.4 17.7"/>
<text x="473.83" y="131.9" font-family="Liberation Serif, Times New Roman, serif" font-weight="bold" font-size="74.5" fill="#000" textLength="343.89" lengthAdjust="spacingAndGlyphs">Flow value</text>
<text x="473.48" y="214" font-family="Liberation Serif, Times New Roman, serif" font-weight="bold" font-size="74.5" fill="#000" textLength="521.55" lengthAdjust="spacingAndGlyphs">Alarm threshold</text>
</svg>
</body></html>
